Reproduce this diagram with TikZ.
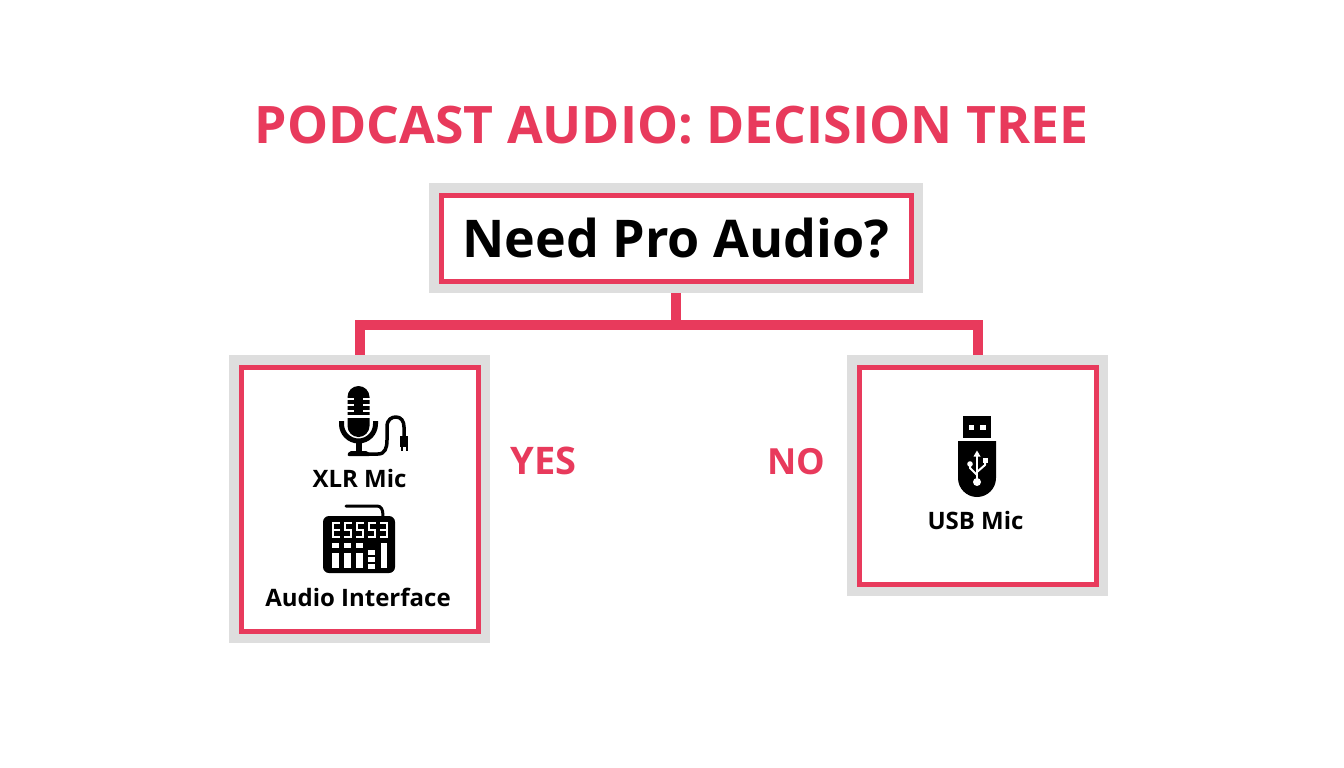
\documentclass[tikz,border=0pt]{standalone}
\usepackage{fontspec}
\setmainfont{Open Sans}
\definecolor{podpink}{HTML}{E83A5C}
\definecolor{podgray}{HTML}{DEDEDE}
\tikzset{
  outerbox/.style={fill=podgray,draw=none,inner sep=0pt,rectangle},
  innerbox/.style={fill=white,draw=podpink,line width=5pt,inner sep=0pt,rectangle},
  link/.style={draw=podpink,line width=10pt,line cap=butt,line join=miter},
  txt/.style={anchor=base,inner sep=0pt,font=\bfseries\fontsize{#1}{#1}\selectfont},
  icon/.style={fill=black,draw=none},
  iconline/.style={draw=black,fill=none,line cap=round,line join=round},
  cut/.style={fill=white,draw=none},
  cutline/.style={draw=white,fill=none,line cap=round,line join=round}
}
\begin{document}
\begin{tikzpicture}[x=1pt,y=-1pt]
\useasboundingbox (0,0) rectangle (1344,768);
\fill[white] (0,0) rectangle (1344,768);
% boxes
\node[outerbox,minimum width=494pt,minimum height=110pt] (rootO) at (676,238) {};
\node[innerbox,minimum width=470pt,minimum height=86pt] (rootI) at (676,238) {};
\node[outerbox,minimum width=261pt,minimum height=288pt] (yesO) at (359.5,499) {};
\node[innerbox,minimum width=237pt,minimum height=264pt] (yesI) at (359.5,499) {};
\node[outerbox,minimum width=261pt,minimum height=241pt] (noO) at (977.5,475.5) {};
\node[innerbox,minimum width=237pt,minimum height=217pt] (noI) at (977.5,475.5) {};
% connectors
\coordinate (junction) at (676,325);
\draw[link] (rootO.south) -- (junction);
\draw[link] (yesO.north) -- (yesO.north |- junction) -- (noO.north |- junction) -- (noO.north);
% text
\node[txt=51.7,text=podpink] (title) at (671.5,143) {PODCAST AUDIO: DECISION TREE};
\node[txt=52,text=black] (question) at (676,257) {Need Pro Audio?};
\node[txt=24,text=black] (xlr) at (359.5,487) {XLR Mic};
\node[txt=24,text=black] (iface) at (358,606) {Audio Interface};
\node[txt=24,text=black] (usb) at (975.5,529) {USB Mic};
\node[txt=38,text=podpink] (yes) at (543.5,474) {YES};
\node[txt=36,text=podpink] (no) at (796.5,474) {NO};
% microphone icon
\fill[icon] (347.5,397) arc[start angle=180,end angle=360,radius=11] -- (369.5,426) arc[start angle=0,end angle=180,radius=11] -- cycle;
\foreach \yy in {399,405,411}{
  \draw[white,line width=2.5pt] (346,\yy) -- (354,\yy);
  \draw[white,line width=2.5pt] (363,\yy) -- (371,\yy);
}
\draw[white,line width=2.5pt] (346,416.5) -- (371,416.5);
\draw[iconline,line width=5pt,line cap=butt] (341.5,421) -- (341.5,424) arc[start angle=180,end angle=0,radius=17] -- (375.5,421);
\fill[icon] (355.5,441) rectangle (361.5,451);
\fill[icon,rounded corners=2pt] (347,456) -- (349,451) -- (368,451) -- (371,456) -- cycle;
\draw[iconline,line width=3.5pt] (366,454) -- (378,454) .. controls (385,454) and (387,448) .. (387,440) -- (387,427) .. controls (387,419) and (392,417) .. (396,417) .. controls (401,417) and (404,421) .. (404,427) -- (404,436);
\fill[icon] (400,436) rectangle (408,447);
\fill[icon] (400.5,447) rectangle (402.5,451);
\fill[icon] (405.5,447) rectangle (407.5,451);
% interface icon
\fill[icon,rounded corners=6pt] (323,516) rectangle (395,573);
\draw[iconline,line width=3pt] (346,506) -- (377,506) .. controls (381,506) and (383,509) .. (383,516);
\foreach \xx/\kind in {332/1,344/2,356/2,368/2,380/3}{
  \begin{scope}[shift={(\xx,0)}]
    \draw[white,line width=2.4pt] (0,523) -- (8,523);
    \draw[white,line width=2.4pt] (0,530) -- (8,530);
    \draw[white,line width=2.4pt] (0,537) -- (8,537);
    \ifnum\kind=1
      \draw[white,line width=2.4pt] (1.2,523) -- (1.2,537);
    \else\ifnum\kind=2
      \draw[white,line width=2.4pt] (1.2,523) -- (1.2,530);
      \draw[white,line width=2.4pt] (6.8,530) -- (6.8,537);
    \else
      \draw[white,line width=2.4pt] (6.8,523) -- (6.8,537);
    \fi\fi
  \end{scope}
}
\foreach \xx in {332,344,356}{
  \fill[cut] (\xx,543) rectangle +(6.5,5);
  \fill[cut] (\xx,553) rectangle +(6.5,15);
}
\foreach \yy in {550,557,564}{ \fill[cut] (368,\yy) rectangle +(7,4.5); }
\fill[cut] (381,543) rectangle (387,568);
% usb icon
\fill[icon] (963,416) rectangle (991,438);
\fill[cut] (968.5,425) rectangle (973.5,430);
\fill[cut] (980,425) rectangle (985.5,430);
\fill[icon] (958,441) -- (996,441) -- (996,478) arc[start angle=0,end angle=180,radius=19] -- cycle;
\draw[cutline,line width=2.2pt] (977,455) -- (977,482);
\fill[cut] (977,450.5) -- (980.5,456.5) -- (973.5,456.5) -- cycle;
\fill[cut] (977,482) circle[radius=4];
\draw[cutline,line width=2pt] (970,464) -- (970,468) -- (977,475);
\fill[cut] (970,464) circle[radius=2.8];
\draw[cutline,line width=2pt] (985,460) -- (985,465) -- (977,472);
\fill[cut] (982.5,457.5) rectangle (987.5,462.5);
\end{tikzpicture}
\end{document}
